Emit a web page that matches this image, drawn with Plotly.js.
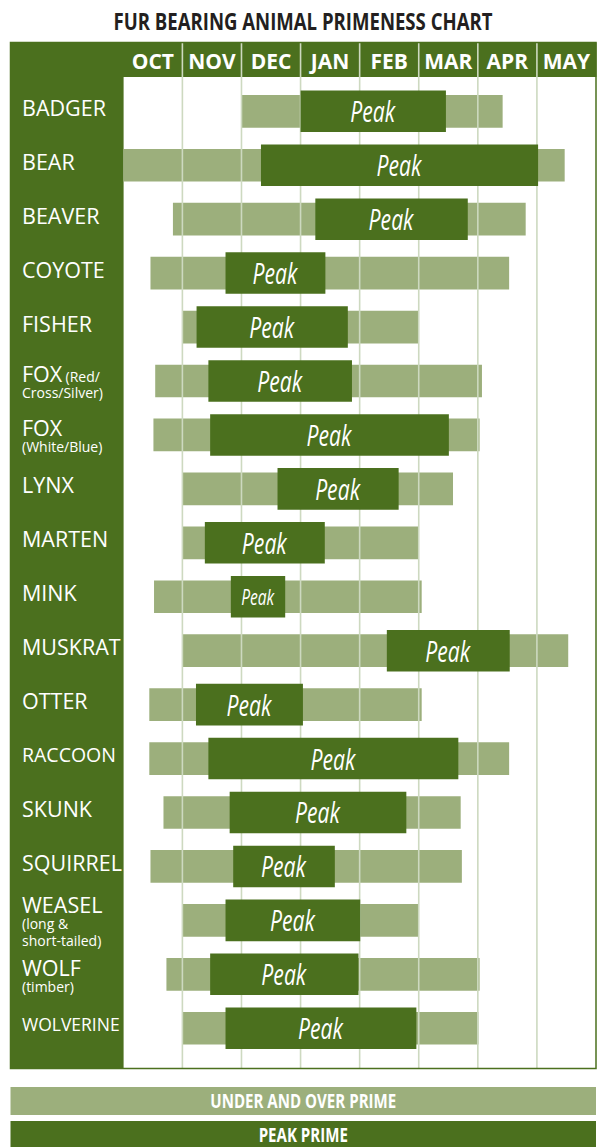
<!DOCTYPE html>
<html><head><meta charset="utf-8">
<script src="https://cdn.plot.ly/plotly-3.0.1.min.js"></script>
<style>html,body{margin:0;padding:0;background:#fff;} #chart{width:597px;height:1147px;}</style>
</head><body><div id="chart"></div>
<script>
// ---------- DATA ----------
const months = ['OCT','NOV','DEC','JAN','FEB','MAR','APR','MAY'];
const animals = ['BADGER','BEAR','BEAVER','COYOTE','FISHER','FOX','FOX','LYNX','MARTEN','MINK','MUSKRAT','OTTER','RACCOON','SKUNK','SQUIRREL','WEASEL','WOLF','WOLVERINE'];
const noteInline = ['','','','','','(Red/','','','','','','','','','','','',''];
const noteBelow = [[],[],[],[],[],['Cross/Silver)'],['(White/Blue)'],[],[],[],[],[],[],[],[],['(long &','short-tailed)'],['(timber)'],[]];
// values in months counted from the start of October
const primeStart = [2.00, 0.00, 0.84, 0.46, 1.00, 0.54, 0.51, 1.00, 1.00, 0.52, 1.00, 0.44, 0.44, 0.68, 0.46, 1.00, 0.73, 1.00];
const primeEnd   = [6.42, 7.47, 6.81, 6.53, 5.00, 6.07, 6.03, 5.58, 5.00, 5.05, 7.53, 5.05, 6.53, 5.71, 5.73, 5.00, 6.03, 6.01];
const peakStart  = [3.00, 2.33, 3.25, 1.73, 1.24, 1.44, 1.47, 2.61, 1.38, 1.82, 4.46, 1.23, 1.44, 1.80, 1.86, 1.73, 1.47, 1.73];
const peakEnd    = [5.46, 7.02, 5.83, 3.42, 3.80, 3.87, 5.51, 4.66, 3.41, 2.74, 6.54, 3.04, 5.67, 4.79, 3.58, 4.01, 3.98, 4.96];
const peakLabel = 'Peak';
const legendLabels = ['UNDER AND OVER PRIME', 'PEAK PRIME'];
const chartTitle = 'FUR BEARING ANIMAL PRIMENESS CHART';

// ---------- STYLE ----------
const W = 597, H = 1147;
const DARK = '#4b701e', LIGHT = '#9caf7c', GRID = '#cdd9c0';
const SANS = "'Open Sans','Noto Sans',sans-serif";
const nameSize = {RACCOON: 19.5, WOLVERINE: 17.5};
const px = x => x / W, py = y => 1 - y / H;
const yTop = -1.266, yBottom = 17.737;

const idx = animals.map((_, i) => i);
const n = months.length;
const narrowPeak = idx.map(i => (peakEnd[i] - peakStart[i]) < 1);

const traces = [];
traces.push({
  type: 'bar', orientation: 'h', xaxis: 'x', yaxis: 'y',
  y: idx, base: primeStart, x: primeEnd.map((e, i) => e - primeStart[i]),
  width: 0.606, marker: {color: LIGHT, line: {width: 0}}, hoverinfo: 'skip', showlegend: false
});
// month boundary lines (over the light bars, under the peak bars)
const gx = [], gy = [];
for (let k = 1; k < n; k++) { gx.push(k, k, null); gy.push(yTop, yBottom, null); }
traces.push({type: 'scatter', mode: 'lines', xaxis: 'x', yaxis: 'y', x: gx, y: gy,
  line: {color: GRID, width: 1.6}, hoverinfo: 'skip', showlegend: false});
traces.push({
  type: 'bar', orientation: 'h', xaxis: 'x2', yaxis: 'y',
  y: idx, base: peakStart, x: peakEnd.map((e, i) => e - peakStart[i]),
  width: 0.77, marker: {color: DARK, line: {width: 0}},
  text: idx.map(() => peakLabel), textposition: 'inside', insidetextanchor: 'middle', textangle: 0,
  constraintext: 'none',
  textfont: {family: SANS, style: 'italic', color: '#ffffff', size: narrowPeak.map(s => s ? 21 : 28.5)},
  hoverinfo: 'skip', showlegend: false
});

const annotations = [];
animals.forEach((name, i) => {
  const size = nameSize[name] || 21.5;
  if (noteBelow[i].length === 0 && !noteInline[i]) {
    annotations.push({xref: 'paper', yref: 'y', x: px(20.5), y: i, xanchor: 'left', yanchor: 'middle',
      yshift: 4, borderpad: 0, text: name, showarrow: false, font: {family: SANS, size: size, color: '#ffffff'}});
  } else {
    let txt = '<span style="font-size:' + size + 'px">' + name + '</span>';
    if (noteInline[i]) txt += ' <span style="font-size:14px">' + noteInline[i] + '</span>';
    noteBelow[i].forEach(s => { txt += '<br><span style="font-size:14px">' + s + '</span>'; });
    annotations.push({xref: 'paper', yref: 'y', x: px(20.5), y: i, xanchor: 'left', yanchor: 'middle', align: 'left',
      yshift: 0, borderpad: 0, text: txt, showarrow: false, font: {family: SANS, size: 12.5, color: '#ffffff'}});
  }
});
// legend texts
annotations.push({xref: 'paper', yref: 'paper', x: px(303), y: py(1101), xanchor: 'center', yanchor: 'middle',
  text: legendLabels[0], showarrow: false, font: {family: SANS, size: 19, weight: 'bold', color: '#ffffff'}});
annotations.push({xref: 'paper', yref: 'paper', x: px(303), y: py(1135), xanchor: 'center', yanchor: 'middle',
  text: legendLabels[1], showarrow: false, font: {family: SANS, size: 19, weight: 'bold', color: '#ffffff'}});

const shapes = [
  {type: 'rect', xref: 'paper', yref: 'paper', layer: 'below', x0: px(10.5), x1: px(123.6), y0: py(1068.5), y1: py(42.5),
    fillcolor: DARK, line: {width: 0}},
  {type: 'rect', xref: 'paper', yref: 'paper', layer: 'below', x0: px(123), x1: px(596.5), y0: py(77), y1: py(42.5),
    fillcolor: DARK, line: {width: 0}},
  {type: 'rect', xref: 'paper', yref: 'paper', layer: 'above', x0: px(10.5), x1: px(596), y0: py(1068.5), y1: py(42.5),
    fillcolor: 'rgba(0,0,0,0)', line: {width: 1.5, color: DARK}},
  {type: 'rect', xref: 'paper', yref: 'paper', layer: 'below', x0: px(10.5), x1: px(596), y0: py(1115), y1: py(1087),
    fillcolor: LIGHT, line: {width: 0}},
  {type: 'rect', xref: 'paper', yref: 'paper', layer: 'below', x0: px(10.5), x1: px(596), y0: py(1147), y1: py(1121),
    fillcolor: DARK, line: {width: 0}}
];

const layout = {
  width: W, height: H, margin: {l: 0, r: 0, t: 0, b: 0, pad: 0},
  paper_bgcolor: '#ffffff', plot_bgcolor: '#ffffff',
  showlegend: false, barmode: 'overlay',
  title: {text: chartTitle, x: px(303), xanchor: 'center', xref: 'paper', y: py(22), yref: 'paper', yanchor: 'middle',
    font: {family: SANS, size: 24, weight: 'bold', color: '#231f20'}},
  xaxis: {domain: [px(123.3), px(596)], range: [0, n], side: 'top',
    tickvals: months.map((_, k) => k + 0.5), ticktext: months, ticks: '', ticklabelposition: 'inside',
    ticklabelstandoff: 8,
    tickfont: {family: SANS, size: 21, weight: 'bold', color: '#ffffff'},
    showgrid: false, zeroline: false, showline: false, fixedrange: true},
  xaxis2: {overlaying: 'x', range: [0, n], visible: false, fixedrange: true},
  yaxis: {domain: [py(1068), py(43)], range: [yBottom, yTop], visible: false, showgrid: false, zeroline: false, fixedrange: true},
  shapes: shapes, annotations: annotations
};

// squeeze a text horizontally (condensed typeface look), keeping its centre
function condense(el, width) {
  const b1 = el.getBBox();
  if (!b1.width) return;
  el.setAttribute('textLength', width.toFixed(2));
  el.setAttribute('lengthAdjust', 'spacingAndGlyphs');
  const b2 = el.getBBox();
  const dx = (b1.x + b1.width / 2) - (b2.x + b2.width / 2);
  if (Math.abs(dx) > 0.2) el.setAttribute('x', (parseFloat(el.getAttribute('x') || 0) + dx).toFixed(2));
}

Plotly.newPlot('chart', traces, layout, {displayModeBar: false, staticPlot: true}).then(gd => {
  const t = gd.querySelector('text.gtitle');
  if (t) condense(t, 379);
  gd.querySelectorAll('text.bartext').forEach(el => {
    const w = el.getBBox().width;
    condense(el, w * 0.73);
  });
  let f = null;
  gd.querySelectorAll('text.annotation-text').forEach(el => {
    if (el.textContent === legendLabels[0]) { f = 186 / el.getBBox().width; condense(el, 186); }
  });
  gd.querySelectorAll('text.annotation-text').forEach(el => {
    if (el.textContent === legendLabels[1] && f) condense(el, el.getBBox().width * f);
  });
});
</script>
</body></html>
